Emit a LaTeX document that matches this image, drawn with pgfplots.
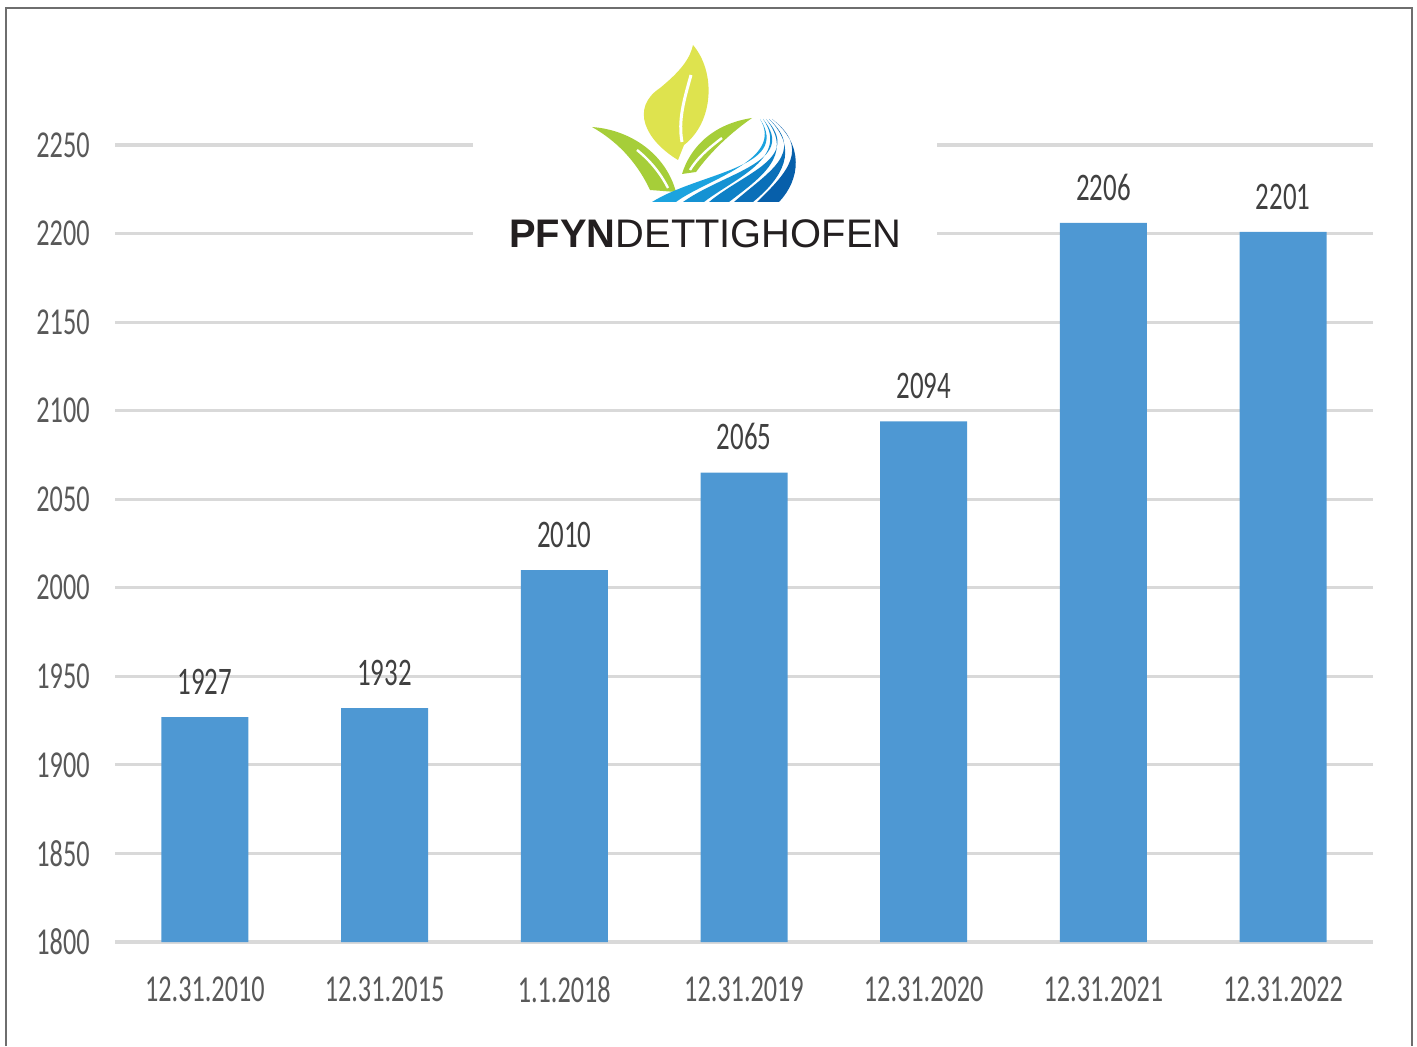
\documentclass[border=0pt]{standalone}
\usepackage{pgfplots}
\pgfplotsset{compat=1.18}
\usepackage{fontspec}
\setmainfont{Carlito}
\newfontfamily\narrowfont[FakeStretch=0.69]{Carlito}
\newfontfamily\logofont{Liberation Sans}
\definecolor{barblue}{HTML}{4E98D3}
\definecolor{gridgray}{HTML}{D9D9D9}
\definecolor{tickgray}{HTML}{595959}
\definecolor{valgray}{HTML}{404040}
\definecolor{framegray}{HTML}{6E6E6E}
\definecolor{leafY}{HTML}{DEE34E}
\definecolor{leafG}{HTML}{A6CE39}
\definecolor{rb0}{HTML}{1BA3DF}
\definecolor{rb1}{HTML}{1592D3}
\definecolor{rb2}{HTML}{0E80C6}
\definecolor{rb3}{HTML}{0A6FB8}
\definecolor{rb4}{HTML}{075FAA}
\begin{document}
\begin{tikzpicture}[x=0.5pt,y=0.5pt]
\useasboundingbox (0,0) rectangle (1417,1046);
\begin{axis}[
  at={(57.5pt,52pt)}, anchor=south west,
  scale only axis, width=629pt, height=398.5pt,
  ybar, bar width=43.5pt,
  xmin=-0.5, xmax=6.5, ymin=1800, ymax=2250,
  ytick={1800,1850,...,2250},
  xtick={0,...,6},
  xticklabels={12.31.2010,12.31.2015,1.1.2018,12.31.2019,12.31.2020,12.31.2021,12.31.2022},
  ymajorgrids, grid style={draw=gridgray, line width=1.6pt},
  axis line style={draw=none},
  major tick length=0pt,
  clip=false,
  /pgf/number format/assume math mode=true,
  /pgf/number format/1000 sep={},
  tick label style={font=\narrowfont\fontsize{19}{19}\selectfont, text=tickgray, inner sep=0pt},
  yticklabel style={anchor=east, xshift=-12.5pt},
  xticklabel style={anchor=north, yshift=-17pt},
  nodes near coords,
  every node near coord/.append style={font=\narrowfont\fontsize{19.5}{19.5}\selectfont, text=valgray, inner sep=0pt, anchor=south, yshift=11pt},
]
\addplot[fill=barblue, draw=none] coordinates {(0,1927) (1,1932) (2,2010) (3,2065) (4,2094) (5,2206) (6,2201)};
\end{axis}
\begin{scope}[shift={(0,1046)}, yscale=-1]
\draw[framegray, line width=0.75pt] (6,1046) -- (6,8) -- (1412,8) -- (1412,1046);
\fill[white] (473,128) rectangle (937,262);
% yellow leaf
\fill[leafY] (678,160) .. controls (645,140) and (630,108) .. (660,88) .. controls (682,70) and (690,58) .. (693,45) .. controls (716,72) and (714,122) .. (684,145) -- cycle;
\draw[white, line width=1.5pt] (691,75) .. controls (684,100) and (678,120) .. (682,142);
% left green leaf
\fill[leafG] (592,127) .. controls (632,130) and (666,155) .. (676,192) -- (650,190) .. controls (636,160) and (615,140) .. (592,127) -- cycle;
\draw[white, line width=1.2pt] (637,150) .. controls (652,162) and (662,176) .. (668,188);
% right green leaf
\fill[leafG] (752,118) .. controls (712,124) and (690,148) .. (682,174) -- (696,172) .. controls (712,150) and (732,132) .. (752,118) -- cycle;
\draw[white, line width=1.2pt] (722,138) .. controls (706,150) and (696,160) .. (690,170);
% river stripes
\fill[rb0] (652,202) .. controls (700,172) and (792,168) .. (760,119) .. controls (785,160) and (705,180) .. (676,202) -- cycle;
\fill[rb1] (683,202) .. controls (725,172) and (798,162) .. (763,119) .. controls (790,158) and (735,178) .. (704,202) -- cycle;
\fill[rb2] (709,202) .. controls (745,172) and (802,158) .. (766,119) .. controls (795,155) and (760,178) .. (729,202) -- cycle;
\fill[rb3] (734,202) .. controls (768,172) and (806,153) .. (769,119) .. controls (800,150) and (782,178) .. (753,202) -- cycle;
\fill[rb4] (757,202) .. controls (788,172) and (810,148) .. (772,119) .. controls (805,145) and (800,180) .. (779,202) -- cycle;
\node[anchor=base west, inner sep=0pt] at (509,248) {\resizebox{196pt}{!}{\logofont\fontsize{19.5}{20}\selectfont\color[HTML]{231F20}\textbf{PFYN}DETTIGHOFEN}};
\end{scope}
\end{tikzpicture}
\end{document}
